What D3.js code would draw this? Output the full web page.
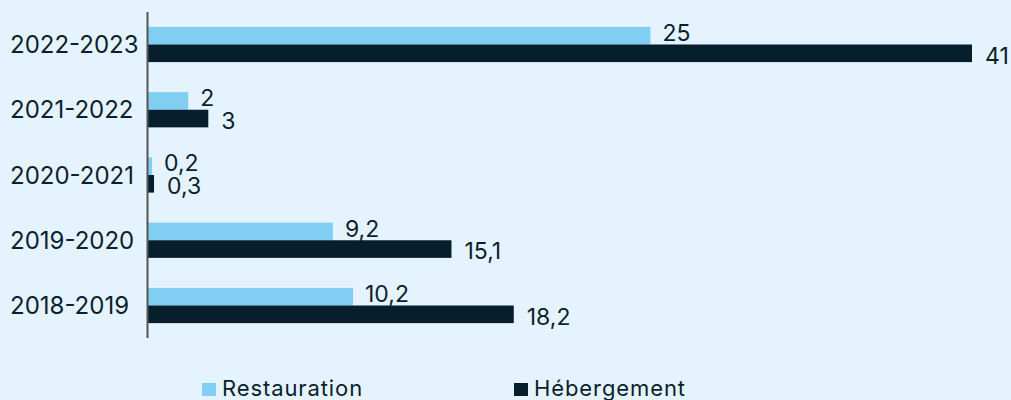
<!DOCTYPE html>
<html>
<head>
<meta charset="utf-8">
<script src="https://cdn.jsdelivr.net/npm/d3@7"></script>
<style>
  html, body { margin: 0; padding: 0; background: #e5f3fe; }
  svg { display: block; }
  text { font-family: Inter, "Noto Sans", sans-serif; fill: #0b1f2c; }
</style>
</head>
<body>
<svg id="chart" width="1011" height="400"></svg>
<script>
const categories = ["2022-2023", "2021-2022", "2020-2021", "2019-2020", "2018-2019"];
const restauration = [25, 2, 0.2, 9.2, 10.2];
const hebergement = [41, 3, 0.3, 15.1, 18.2];
const seriesNames = ["Restauration", "Hébergement"];
const seriesColors = ["#80cff3", "#071e2c"];

const fmt = v => String(v).replace(".", ",");

const svg = d3.select("#chart");
const W = 1011, H = 400;
svg.append("rect").attr("width", W).attr("height", H).attr("fill", "#e5f3fe");

const x = d3.scaleLinear().domain([0, 41]).range([148, 972]);
const y = d3.scaleBand().domain(categories).range([12, 338]).paddingInner(0.46).paddingOuter(0.228);
const ySub = d3.scaleBand().domain([0, 1]).range([0, y.bandwidth()]);

const data = categories.map((c, i) => ({ cat: c, vals: [restauration[i], hebergement[i]] }));

const g = svg.append("g");
const groups = g.selectAll("g.grp").data(data).join("g")
  .attr("class", "grp")
  .attr("transform", d => `translate(0,${y(d.cat)})`);

groups.selectAll("rect").data(d => d.vals.map((v, k) => ({ v, k }))).join("rect")
  .attr("x", x(0))
  .attr("y", d => ySub(d.k))
  .attr("width", d => x(d.v) - x(0))
  .attr("height", ySub.bandwidth())
  .attr("fill", d => seriesColors[d.k]);

groups.selectAll("text.val").data(d => d.vals.map((v, k) => ({ v, k }))).join("text")
  .attr("class", "val")
  .attr("x", d => x(d.v) + (d.k === 0 ? 12 : 13))
  .attr("y", d => ySub(d.k) + ySub.bandwidth() / 2 + (d.k === 0 ? -3 : 2))
  .attr("dy", "0.36em")
  .attr("font-size", 23)
  .text(d => fmt(d.v));

// category axis
const yAxis = d3.axisLeft(y).tickSize(0).tickPadding(0);
const ax = svg.append("g").attr("transform", `translate(147.5,0)`).call(yAxis);
ax.select(".domain").remove();
ax.selectAll(".tick text")
  .attr("x", 10 - 147.5)
  .attr("text-anchor", "start")
  .attr("font-size", 24)
  .attr("font-family", "Inter, 'Noto Sans', sans-serif")
  .attr("fill", "#0b1f2c")
  .attr("dy", "0.36em");
svg.append("line")
  .attr("x1", 147.5).attr("x2", 147.5)
  .attr("y1", 12).attr("y2", 338)
  .attr("stroke", "#555").attr("stroke-width", 2);

// legend
const legendX = [202, 514];
const lg = svg.selectAll("g.leg").data(seriesNames).join("g")
  .attr("class", "leg")
  .attr("transform", (d, i) => `translate(${legendX[i]},383)`);
lg.append("rect").attr("width", 14).attr("height", 13).attr("fill", (d, i) => seriesColors[i]);
lg.append("text").attr("x", 20).attr("y", 13).attr("font-size", 22)
  .attr("letter-spacing", "0.9px").text(d => d);
</script>
</body>
</html>
